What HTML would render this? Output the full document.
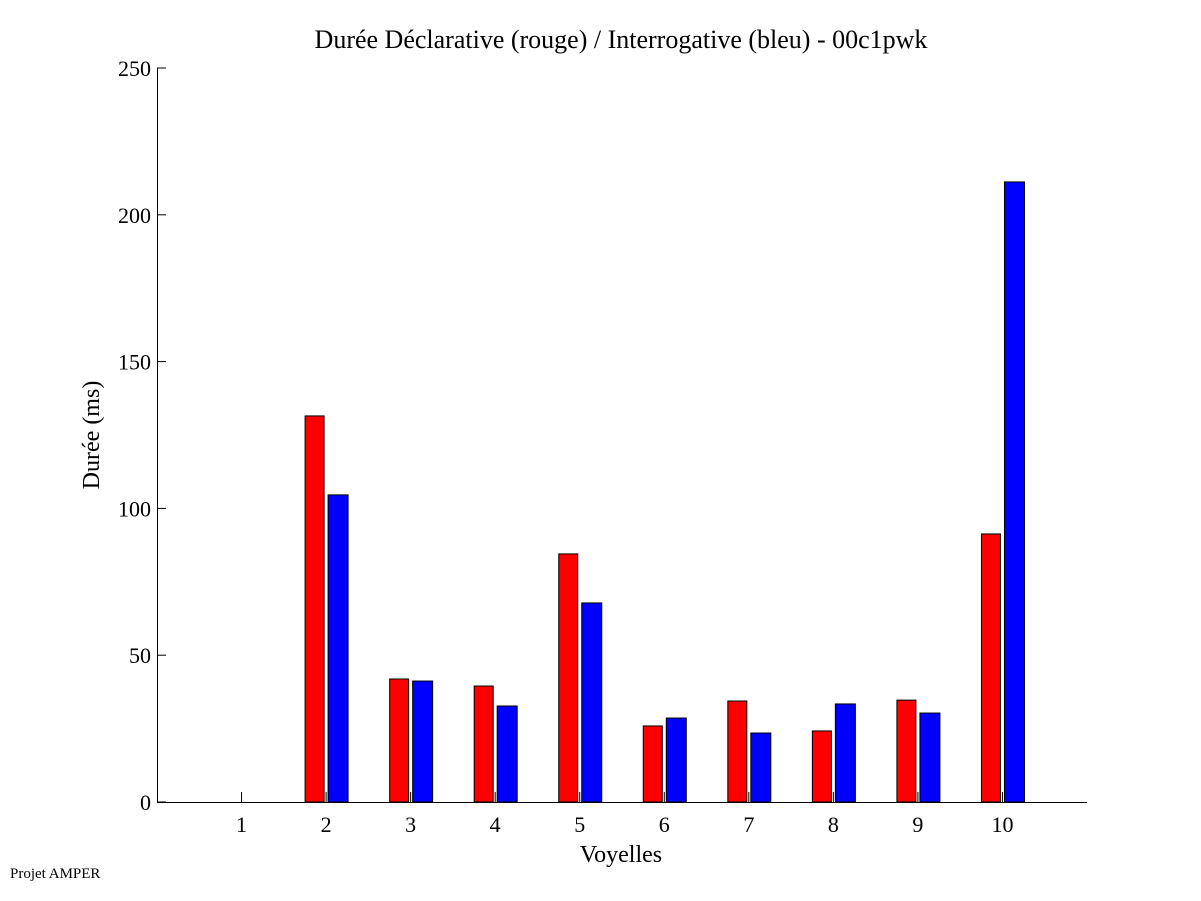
<!DOCTYPE html>
<html><head><meta charset="utf-8"><style>
body{margin:0;background:#fff;}
svg{display:block;font-family:"Liberation Serif",serif;}
</style></head><body>
<svg id="chart" width="1201" height="901">
<rect width="1201" height="901" fill="#fff"/>
<text x="621" y="48" font-size="26" text-anchor="middle">Durée Déclarative (rouge) / Interrogative (bleu) - 00c1pwk</text>
<text x="621" y="862" font-size="24" text-anchor="middle">Voyelles</text>
<text transform="translate(99,435) rotate(-90)" font-size="24" text-anchor="middle">Durée (ms)</text>
<text x="10" y="878" font-size="15">Projet AMPER</text>
<g id="bars"></g>
<g id="axes"></g>
</svg>
<script>
const categories=["1","2","3","4","5","6","7","8","9","10"];
const redValues=[0,131.5,41.9,39.5,84.5,25.9,34.4,24.2,34.7,91.3];
const blueValues=[0,104.6,41.2,32.7,67.8,28.6,23.5,33.4,30.3,211.2];
const yTicks=[0,50,100,150,200,250];
const NS="http://www.w3.org/2000/svg";
const L=157,R=1087,T=68,B=802;
const xs=i=>L+(i+1)*(R-L)/11;
const ys=v=>B-(v/250)*(B-T);
const bars=document.getElementById('bars'),axes=document.getElementById('axes');
function mk(tag,attrs,parent){const e=document.createElementNS(NS,tag);for(const k in attrs)e.setAttribute(k,attrs[k]);parent.appendChild(e);return e;}
categories.forEach((c,i)=>{
  const cx=xs(i);
  if(redValues[i]>0){
    const r=mk('rect',{x:cx-21,y:ys(redValues[i]),width:19,height:B-ys(redValues[i]),fill:'#ff0000',stroke:'#000','stroke-width':1},bars);
    
    
  }
  if(blueValues[i]>0){
    const b=mk('rect',{x:cx+2,y:ys(blueValues[i]),width:20,height:B-ys(blueValues[i]),fill:'#0000ff',stroke:'#000','stroke-width':1},bars);
    
    
  }
  mk('line',{x1:cx,x2:cx,y1:B,y2:B-10,stroke:'#000'},axes);
  const t=mk('text',{x:cx,y:B+30,'font-size':22,'text-anchor':'middle'},axes);
  t.textContent=c;
  
  
});
yTicks.forEach(v=>{
  const y=ys(v);
  mk('line',{x1:L,x2:L+9,y1:y,y2:y,stroke:'#000'},axes);
  const t=mk('text',{x:L-6,y:y+8,'font-size':22,'text-anchor':'end'},axes);
  t.textContent=v;
  
  
});
const xa=mk('line',{x1:L,x2:R,y1:B+0.5,y2:B+0.5,stroke:'#000'},axes);


const ya=mk('line',{x1:L+0.5,x2:L+0.5,y1:T,y2:B,stroke:'#000'},axes);


</script>
</body></html>
